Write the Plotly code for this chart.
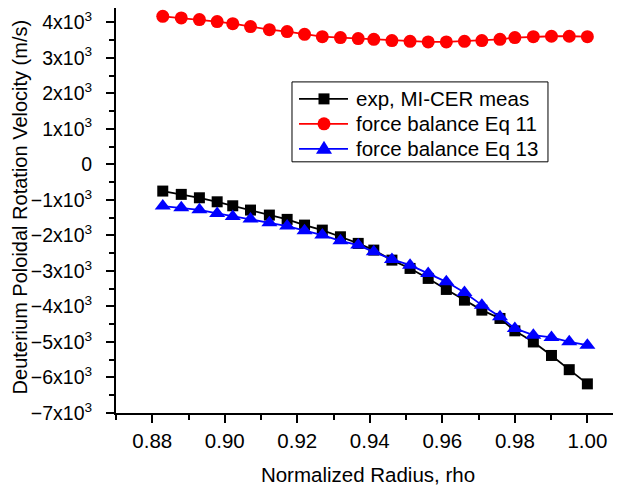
import plotly.graph_objects as go

rho = [0.8829, 0.8880, 0.8930, 0.8979, 0.9022, 0.9071, 0.9123, 0.9172, 0.9220,
       0.9269, 0.9319, 0.9368, 0.9411, 0.9461, 0.9511, 0.9561, 0.9611, 0.9661,
       0.9709, 0.9759, 0.9800, 0.9851, 0.9901, 0.9950, 1.0000]

exp_meas = [-752, -845, -941, -1054, -1166, -1287, -1428, -1549, -1710, -1851,
            -2039, -2225, -2414, -2696, -2930, -3211, -3521, -3823, -4104, -4338,
            -4687, -5000, -5380, -5780, -6180]

eq11 = [4169, 4122, 4075, 4019, 3962, 3878, 3793, 3737, 3662, 3596, 3568, 3540,
        3521, 3484, 3465, 3446, 3446, 3465, 3484, 3521, 3568, 3596, 3606, 3606, 3596]

eq13 = [-1175, -1222, -1279, -1380, -1465, -1541, -1645, -1738, -1870, -1992,
        -2152, -2273, -2462, -2676, -2837, -3070, -3307, -3606, -3963, -4293,
        -4620, -4808, -4873, -4997, -5090]

series_names = ["exp, MI-CER meas", "force balance Eq 11", "force balance Eq 13"]
series_colors = ["black", "#ff0000", "#0000ff"]

y_tickvals = [-7000, -6000, -5000, -4000, -3000, -2000, -1000, 0, 1000, 2000, 3000, 4000]
y_ticktext = ["\u22127x10<sup>3</sup>", "\u22126x10<sup>3</sup>", "\u22125x10<sup>3</sup>",
              "\u22124x10<sup>3</sup>", "\u22123x10<sup>3</sup>", "\u22122x10<sup>3</sup>",
              "\u22121x10<sup>3</sup>", "0",
              "1x10<sup>3</sup>", "2x10<sup>3</sup>", "3x10<sup>3</sup>", "4x10<sup>3</sup>"]
x_tickvals = [0.88, 0.90, 0.92, 0.94, 0.96, 0.98, 1.00]
x_ticktext = ["0.88", "0.90", "0.92", "0.94", "0.96", "0.98", "1.00"]

FONT = "Arial"
FS = 20.5

fig = go.Figure()
fig.add_trace(go.Scatter(x=rho, y=exp_meas, name=series_names[0], mode="lines+markers",
                         line=dict(color=series_colors[0], width=1.8),
                         marker=dict(symbol="square", size=11, color=series_colors[0])))
fig.add_trace(go.Scatter(x=rho, y=eq11, name=series_names[1], mode="lines+markers",
                         line=dict(color=series_colors[1], width=1.8),
                         marker=dict(symbol="circle", size=13, color=series_colors[1])))
fig.add_trace(go.Scatter(x=rho, y=eq13, name=series_names[2], mode="lines+markers",
                         line=dict(color=series_colors[2], width=1.8),
                         marker=dict(symbol="triangle-up", size=14, color=series_colors[2])))

# ---- hand-drawn legend box (paper coordinates) ----
shapes = [dict(type="rect", xref="paper", yref="paper", x0=0.3492, x1=0.8571,
               y0=0.6202, y1=0.8175, line=dict(color="black", width=1),
               fillcolor="white", layer="above")]
annotations = []
row_y = [0.7756, 0.7139, 0.6523]
mx = 0.4127
for i, (name, col) in enumerate(zip(series_names, series_colors)):
    yy = row_y[i]
    shapes.append(dict(type="line", xref="paper", yref="paper", x0=0.3631, x1=0.4603,
                       y0=yy, y1=yy, line=dict(color=col, width=1.8), layer="above"))
    if i == 0:
        shapes.append(dict(type="rect", xref="paper", yref="paper",
                           xsizemode="pixel", ysizemode="pixel", xanchor=mx, yanchor=yy,
                           x0=-5.5, x1=5.5, y0=-5.5, y1=5.5,
                           fillcolor=col, line=dict(width=0), layer="above"))
    elif i == 1:
        shapes.append(dict(type="circle", xref="paper", yref="paper",
                           xsizemode="pixel", ysizemode="pixel", xanchor=mx, yanchor=yy,
                           x0=-6.5, x1=6.5, y0=-6.5, y1=6.5,
                           fillcolor=col, line=dict(width=0), layer="above"))
    else:
        shapes.append(dict(type="path", xref="paper", yref="paper",
                           xsizemode="pixel", ysizemode="pixel", xanchor=mx, yanchor=yy,
                           path="M -8,-5 L 8,-5 L 0,8 Z",
                           fillcolor=col, line=dict(width=0), layer="above"))
    annotations.append(dict(xref="paper", yref="paper", x=0.4722, y=yy, text=name,
                            showarrow=False, xanchor="left", yanchor="middle",
                            font=dict(family=FONT, size=FS, color="black")))

# y-axis title placed as a rotated annotation
annotations.append(dict(xref="paper", yref="paper", x=-0.1905, y=0.51,
                        text="Deuterium Poloidal Rotation Velocity (m/s)",
                        textangle=-90, showarrow=False, xanchor="center", yanchor="middle",
                        font=dict(family=FONT, size=20, color="black")))

fig.update_layout(
    width=613, height=479,
    margin=dict(l=108, r=1, t=0, b=73.5, autoexpand=False),
    paper_bgcolor="white", plot_bgcolor="white",
    font=dict(family=FONT, size=FS, color="black"),
    showlegend=False,
    shapes=shapes,
    annotations=annotations,
    xaxis=dict(range=[0.87, 1.0090], showgrid=False, zeroline=False, automargin=False,
               showline=True, linecolor="black", linewidth=2,
               ticks="outside", ticklen=8, tickwidth=2, tickcolor="black",
               tickvals=x_tickvals, ticktext=x_ticktext,
               minor=dict(dtick=0.01, tick0=0.87, ticks="outside", ticklen=5,
                          tickwidth=2, tickcolor="black"),
               title=dict(text="Normalized Radius, rho", standoff=17,
                          font=dict(family=FONT, size=FS)),
               tickfont=dict(family=FONT, size=FS)),
    yaxis=dict(range=[-7000, 4402], showgrid=False, zeroline=False, automargin=False,
               showline=True, linecolor="black", linewidth=2,
               ticks="outside", ticklen=8, tickwidth=2, tickcolor="black",
               tickvals=y_tickvals, ticktext=y_ticktext, ticklabelstandoff=10,
               ticklabeloverflow="allow",
               minor=dict(dtick=500, tick0=0, ticks="outside", ticklen=5,
                          tickwidth=2, tickcolor="black"),
               tickfont=dict(family=FONT, size=19.5)),
)

fig.write_html("out.html")
